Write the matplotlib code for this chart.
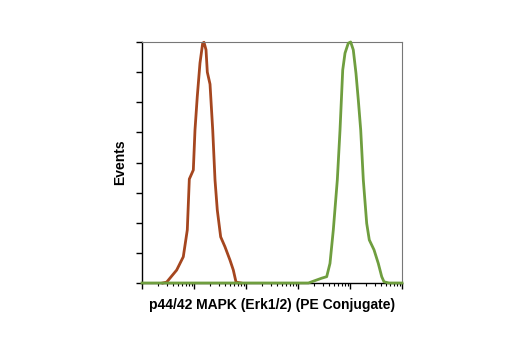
import matplotlib
matplotlib.use("Agg")
import matplotlib.pyplot as plt
import numpy as np

# log10 intensity / relative event count
red_log = [0.40, 0.475, 0.667, 0.794, 0.871, 0.910, 0.987, 1.019, 1.063, 1.115,
           1.167, 1.192, 1.231, 1.256, 1.308, 1.360, 1.404, 1.448, 1.513, 1.596,
           1.692, 1.756, 1.808, 1.90]
red_events = [0.0, 0.03, 0.43, 0.87, 1.76, 3.45, 3.75, 5.08, 6.19, 7.30,
              7.96, 7.99, 7.74, 7.0, 6.6, 5.08, 3.42, 2.42, 1.53, 1.20,
              0.76, 0.43, 0.03, 0.0]

green_log = [0.0, 3.20, 3.327, 3.456, 3.552, 3.615, 3.679, 3.756, 3.808, 3.860, 3.904,
             3.967, 4.013, 4.063, 4.115, 4.160, 4.206, 4.256, 4.321, 4.371, 4.462,
             4.544, 4.610, 4.654, 4.75, 5.0]
green_events = [0.0, 0.0, 0.08, 0.16, 0.21, 0.65, 1.76, 3.42, 5.08, 7.07, 7.63,
                7.96, 8.0, 7.74, 6.96, 6.07, 5.08, 3.42, 1.98, 1.43, 1.10,
                0.65, 0.21, 0.04, 0.0, 0.0]

x_label = "p44/42 MAPK (Erk1/2) (PE Conjugate)"
y_label = "Events"

plt.rcParams['font.family'] = ['Liberation Sans', 'DejaVu Sans']

fig = plt.figure(figsize=(5.2, 3.5), dpi=100)
ax = fig.add_axes([142 / 520, 1 - 283 / 350, 260 / 520, 241 / 350])

ax.plot(10 ** np.array(red_log), red_events, color='#a5461f', lw=2, clip_on=False, zorder=2)
ax.plot(10 ** np.array(green_log), green_events, color='#6f9e3f', lw=2, clip_on=False, zorder=3)

ax.set_xscale('log')
ax.set_xlim(1, 1e5)
ax.set_ylim(0, 8)
ax.set_yticks(range(0, 9))
ax.set_yticklabels([])
ax.xaxis.set_minor_formatter(plt.NullFormatter())
ax.xaxis.set_major_formatter(plt.NullFormatter())

ax.tick_params(axis='y', direction='out', length=4, width=1, color='black')
ax.tick_params(axis='x', which='major', direction='out', length=4, width=1)
ax.tick_params(axis='x', which='minor', direction='out', length=2.5, width=0.8)

for side in ['top', 'right']:
    ax.spines[side].set_color('#777777')
    ax.spines[side].set_linewidth(0.8)
for side in ['left', 'bottom']:
    ax.spines[side].set_color('black')
    ax.spines[side].set_linewidth(1)

ax.set_xlabel(x_label, fontsize=10, fontweight='bold', labelpad=3)
ax.set_ylabel(y_label, fontsize=10, fontweight='bold', labelpad=3)

fig.savefig("out.png", dpi=100)
